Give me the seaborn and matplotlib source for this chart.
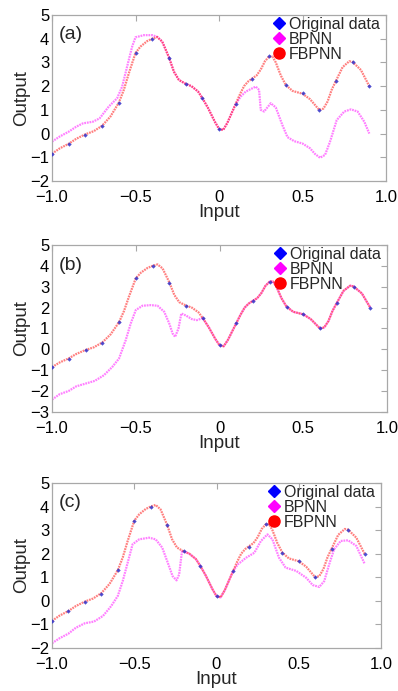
import matplotlib
matplotlib.use('Agg')
import matplotlib.pyplot as plt
import pandas as pd
import seaborn as sns
from matplotlib.lines import Line2D

# ---------------- data ----------------
x_orig = [-1.0, -0.9, -0.8, -0.7, -0.6, -0.5, -0.4, -0.3, -0.2, -0.1,
          0.0, 0.1, 0.2, 0.3, 0.4, 0.5, 0.6, 0.7, 0.8, 0.9]
y_orig = [-0.85, -0.45, -0.05, 0.3, 1.3, 3.4, 4.0, 3.2, 2.1, 1.5,
          0.2, 1.25, 2.3, 3.25, 2.05, 1.7, 1.0, 2.2, 3.0, 2.0]

fb_x = [-1.0, -0.955, -0.9, -0.855, -0.8, -0.75, -0.7, -0.65, -0.6, -0.57,
        -0.54, -0.5, -0.47, -0.43, -0.4, -0.37, -0.34, -0.3, -0.27, -0.24,
        -0.2, -0.165, -0.125, -0.1, -0.065, -0.025, 0.0, 0.025, 0.05, 0.075,
        0.1, 0.125, 0.15, 0.175, 0.2, 0.225, 0.25, 0.275, 0.3, 0.32,
        0.34, 0.37, 0.4, 0.44, 0.5, 0.545, 0.6, 0.625, 0.65, 0.675,
        0.7, 0.74, 0.78, 0.8, 0.85, 0.9]
fb_y = [-0.85, -0.63, -0.43, -0.22, -0.03, 0.1, 0.33, 0.72, 1.3, 1.84,
        2.54, 3.4, 3.67, 3.9, 4.0, 4.07, 3.88, 3.22, 2.61, 2.26,
        2.1, 2.0, 1.77, 1.5, 1.07, 0.5, 0.2, 0.15, 0.45, 0.85,
        1.25, 1.65, 2.0, 2.2, 2.33, 2.45, 2.7, 3.05, 3.25, 3.25,
        3.0, 2.45, 2.05, 1.8, 1.68, 1.45, 1.0, 1.05, 1.35, 1.85,
        2.22, 2.8, 3.05, 3.02, 2.68, 2.0]

bp_a_x = [-1.0, -0.955, -0.9, -0.855, -0.815, -0.755, -0.715, -0.66, -0.61, -0.58,
          -0.55, -0.52, -0.5, -0.45, -0.4, -0.37, -0.34, -0.3, -0.27, -0.24,
          -0.2, -0.165, -0.125, -0.1, -0.065, -0.025, 0.0, 0.025, 0.05, 0.075,
          0.1, 0.13, 0.16, 0.2, 0.22, 0.24, 0.25, 0.27, 0.31, 0.34,
          0.38, 0.41, 0.45, 0.5, 0.545, 0.575, 0.605, 0.635, 0.665, 0.705,
          0.75, 0.79, 0.83, 0.87, 0.9]
bp_a_y = [-0.34, -0.13, 0.08, 0.29, 0.43, 0.5, 0.64, 1.14, 1.49, 1.98,
          2.83, 3.67, 4.06, 4.15, 4.15, 4.08, 3.88, 3.22, 2.61, 2.26,
          2.1, 2.0, 1.77, 1.5, 1.07, 0.5, 0.2, 0.15, 0.45, 0.85,
          1.25, 1.56, 1.77, 1.91, 1.98, 1.84, 1.0, 0.93, 1.28, 1.1,
          0.35, -0.15, -0.32, -0.42, -0.62, -0.86, -1.02, -0.9, -0.34, 0.57,
          0.93, 1.02, 0.93, 0.5, 0.0]

bp_b_x = [-1.0, -0.955, -0.9, -0.855, -0.8, -0.745, -0.69, -0.64, -0.6, -0.56,
          -0.53, -0.5, -0.46, -0.41, -0.37, -0.33, -0.3, -0.28, -0.265, -0.245,
          -0.228, -0.2, -0.165, -0.135, -0.1, -0.065, -0.025, 0.0, 0.025, 0.05,
          0.075, 0.1, 0.125, 0.15, 0.175, 0.2, 0.225, 0.25, 0.275, 0.3,
          0.32, 0.34, 0.37, 0.4, 0.44, 0.5, 0.545, 0.6, 0.625, 0.65,
          0.675, 0.7, 0.74, 0.78, 0.8, 0.85, 0.9]
bp_b_y = [-2.41, -2.15, -1.99, -1.77, -1.64, -1.51, -1.24, -0.84, -0.44, 0.44,
          1.24, 1.88, 2.09, 2.12, 2.09, 1.8, 1.24, 0.76, 0.6, 1.0,
          1.72, 1.62, 1.45, 1.4, 1.5, 1.07, 0.5, 0.2, 0.15, 0.45,
          0.85, 1.25, 1.65, 2.0, 2.2, 2.33, 2.45, 2.7, 3.05, 3.25,
          3.25, 3.0, 2.45, 2.05, 1.8, 1.68, 1.45, 1.0, 1.05, 1.35,
          1.85, 2.22, 2.8, 3.05, 3.02, 2.68, 2.0]

bp_c_x = [-1.0, -0.955, -0.9, -0.855, -0.8, -0.745, -0.69, -0.64, -0.6, -0.57,
          -0.54, -0.51, -0.47, -0.41, -0.37, -0.33, -0.3, -0.267, -0.243, -0.227,
          -0.21, -0.2, -0.165, -0.125, -0.1, -0.065, -0.025, 0.0, 0.025, 0.05,
          0.075, 0.1, 0.13, 0.18, 0.23, 0.27, 0.31, 0.34, 0.38, 0.42,
          0.485, 0.545, 0.585, 0.625, 0.655, 0.685, 0.715, 0.755, 0.8, 0.85,
          0.9]
bp_c_y = [-1.8, -1.59, -1.39, -1.14, -0.95, -0.88, -0.64, -0.22, 0.21, 0.84,
          1.62, 2.4, 2.61, 2.68, 2.61, 2.26, 1.69, 1.05, 0.87, 1.12,
          2.1, 2.1, 2.0, 1.77, 1.5, 1.07, 0.5, 0.2, 0.15, 0.45,
          0.85, 1.25, 1.55, 1.83, 2.04, 2.54, 2.82, 2.61, 1.83, 1.41,
          1.27, 0.98, 0.67, 0.59, 0.84, 1.55, 2.19, 2.54, 2.57, 2.33,
          1.58]

panel_labels = ['(a)', '(b)', '(c)']
bp_series = [(bp_a_x, bp_a_y), (bp_b_x, bp_b_y), (bp_c_x, bp_c_y)]
y_limits = [(-2, 5), (-3, 5), (-2, 5)]
x_ticks = [-1.0, -0.5, 0.0, 0.5, 1.0]
x_tick_labels = ['\u22121.0', '\u22120.5', '0', '0.5', '1.0']
legend_labels = ['Original data', 'BPNN', 'FBPNN']

# ---------------- style ----------------
sns.set_theme(style='white')
plt.rcParams['font.family'] = ['Liberation Sans', 'DejaVu Sans']
plt.rcParams['axes.unicode_minus'] = True

W, H = 398, 691
fig = plt.figure(figsize=(W / 100, H / 100), dpi=100)
boxes = [(52, 386, 15, 181), (52, 387, 245, 412), (52, 381, 483, 648)]

RED = '#ff0000'
MAG = '#ff00ff'
BLUE = '#0000ff'
GRAY = '#a8a8a8'

for i, (l, r, t, b) in enumerate(boxes):
    ax = fig.add_axes([l / W, 1 - b / H, (r - l) / W, (b - t) / H])
    bx, by = bp_series[i]
    df_bp = pd.DataFrame({'x': bx, 'y': by})
    df_fb = pd.DataFrame({'x': fb_x, 'y': fb_y})
    df_or = pd.DataFrame({'x': x_orig, 'y': y_orig})
    sns.lineplot(data=df_bp, x='x', y='y', ax=ax, color=MAG, lw=1.6, alpha=0.5,
                 linestyle=(0, (0.8, 0.4)), sort=False)
    sns.lineplot(data=df_fb, x='x', y='y', ax=ax, color=RED, lw=1.6, alpha=0.5,
                 linestyle=(0, (0.8, 0.4)), sort=False)
    sns.scatterplot(data=df_or, x='x', y='y', ax=ax, color='#3030c8', marker='D',
                    s=5, linewidth=0, alpha=0.85, zorder=5)

    ax.set_xlim(-1.0, 1.0)
    ax.set_ylim(*y_limits[i])
    ax.set_xticks(x_ticks)
    ax.set_xticklabels(x_tick_labels)
    yt = list(range(y_limits[i][0], y_limits[i][1] + 1))
    ax.set_yticks(yt)
    ax.set_yticklabels([str(v).replace('-', '\u2212') for v in yt])
    ax.tick_params(direction='in', top=True, right=True, length=4, width=0.8,
                   color=GRAY, labelcolor='black', labelsize=12)
    ax.tick_params(axis='x', pad=6.5)
    ax.tick_params(axis='y', pad=2)
    for s in ax.spines.values():
        s.set_color(GRAY)
        s.set_linewidth(0.9)
    ax.set_xlabel('Input', fontsize=13.5, labelpad=-1)
    ax.set_ylabel('Output', fontsize=13.5, labelpad=0)
    ax.text(0.02, 0.88, panel_labels[i], transform=ax.transAxes, fontsize=14,
            ha='left', va='center')

    handles = [
        Line2D([], [], ls='none', marker='D', color=BLUE, markersize=6.5),
        Line2D([], [], ls='none', marker='D', color=MAG, markersize=6.5),
        Line2D([], [], ls='none', marker='o', color=RED, markersize=8),
    ]
    ax.legend(handles, legend_labels, loc='upper right', bbox_to_anchor=(0.985, 1.0),
              frameon=False, fontsize=11.5, labelspacing=0.0, handlelength=0.7,
              handletextpad=0.25, borderpad=0.1, borderaxespad=0)

fig.savefig('out.png', dpi=100)
